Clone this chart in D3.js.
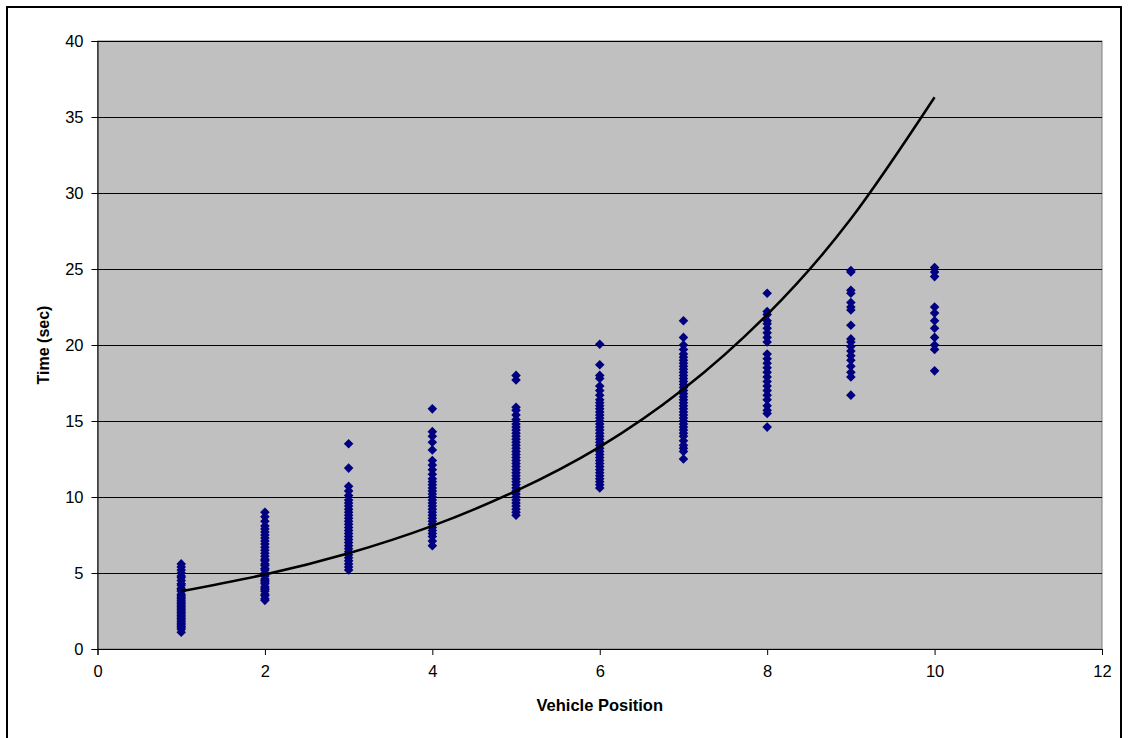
<!DOCTYPE html>
<html><head><meta charset="utf-8">
<script src="https://cdn.jsdelivr.net/npm/d3@7"></script>
<style>body{margin:0;background:#fff}svg{display:block}text{font-family:"Liberation Sans",Arial,sans-serif}</style>
</head><body><svg id="c" width="1128" height="738"></svg>
<script>
const positions = [1,2,3,4,5,6,7,8,9,10];
const times1 = [5.6,5.4,5.2,5.0,4.8,4.7,4.5,4.3,4.2,4.0,3.9,3.8,3.6,3.5,3.4,3.3,3.2,3.1,3.0,2.9,2.8,2.7,2.6,2.5,2.4,2.3,2.2,2.1,2.0,1.9,1.8,1.7,1.6,1.5,1.4,1.3,1.1];
const times2 = [9.0,8.7,8.4,8.1,7.9,7.7,7.5,7.3,7.1,6.9,6.7,6.5,6.3,6.1,5.9,5.8,5.6,5.5,5.3,5.2,5.0,4.9,4.8,4.6,4.5,4.4,4.3,4.1,4.0,3.9,3.8,3.6,3.5,3.3,3.2];
const times3 = [13.5,11.9,10.7,10.4,10.1,9.8,9.6,9.4,9.2,9.0,8.8,8.6,8.4,8.2,8.0,7.8,7.6,7.4,7.2,7.0,6.8,6.6,6.4,6.2,6.0,5.8,5.6,5.4,5.2];
const times4 = [15.8,14.3,14.0,13.6,13.1,12.4,12.1,11.8,11.5,11.2,11.0,10.8,10.6,10.4,10.2,10.0,9.8,9.6,9.4,9.2,9.0,8.8,8.6,8.4,8.2,8.0,7.8,7.6,7.4,7.1,6.8];
const times5 = [18.0,17.7,15.9,15.7,15.4,15.1,14.8,14.6,14.4,14.2,14.0,13.8,13.6,13.4,13.2,13.0,12.8,12.6,12.4,12.2,12.0,11.8,11.6,11.4,11.2,11.0,10.8,10.6,10.4,10.2,10.0,9.8,9.6,9.4,9.2,9.0,8.8];
const times6 = [20.05,18.7,18.0,17.8,17.3,17.0,16.7,16.4,16.2,16.0,15.8,15.6,15.4,15.2,15.0,14.8,14.6,14.4,14.2,14.0,13.8,13.6,13.4,13.2,13.0,12.8,12.6,12.4,12.2,12.0,11.8,11.6,11.4,11.2,11.0,10.8,10.6];
const times7 = [21.6,20.5,20.0,19.7,19.4,19.2,19.0,18.8,18.6,18.4,18.2,18.0,17.8,17.6,17.4,17.2,17.0,16.8,16.6,16.4,16.2,16.0,15.8,15.6,15.4,15.2,15.0,14.8,14.6,14.4,14.2,14.0,13.7,13.4,13.2,13.0,12.5];
const times8 = [23.4,22.2,22.0,21.6,21.4,21.1,20.8,20.5,20.2,19.4,19.1,18.8,18.5,18.2,17.9,17.6,17.3,17.0,16.7,16.4,16.0,15.7,15.5,14.6];
const times9 = [24.9,24.8,23.6,23.4,22.8,22.5,22.3,21.3,20.4,20.2,19.9,19.6,19.3,19.0,18.6,18.2,17.9,16.7];
const times10 = [25.1,24.8,24.5,22.5,22.1,21.6,21.1,20.5,20.0,19.7,18.3];
const trendValues = [3.8,4.9,6.3,8.1,10.4,13.3,17.1,22.0,28.3,36.3];
const xTicks = [0,2,4,6,8,10,12];
const yTicks = [0,5,10,15,20,25,30,35,40];
const xTitle = "Vehicle Position";
const yTitle = "Time (sec)";

const allTimes = [times1,times2,times3,times4,times5,times6,times7,times8,times9,times10];
const points = [];
positions.forEach((p,i)=>allTimes[i].forEach(t=>points.push({x:p,y:t})));
const trend = positions.map((p,i)=>({x:p,y:trendValues[i]}));

const svg = d3.select("#c");
const L=97.5, R=1102, T=41, B=649;
const x = d3.scaleLinear().domain([0,12]).range([L,R]);
const y = d3.scaleLinear().domain([0,40]).range([B,T]);

svg.append("rect").attr("x",7).attr("y",7).attr("width",1114).attr("height",740)
  .attr("fill","#fff").attr("stroke","#000").attr("stroke-width",2);

svg.append("rect").attr("x",L).attr("y",T).attr("width",R-L).attr("height",B-T)
  .attr("fill","#c0c0c0").attr("stroke","#808080").attr("stroke-width",1);

svg.append("g").selectAll("line").data(yTicks.filter(v=>v>0)).join("line")
  .attr("x1",L).attr("x2",R).attr("y1",d=>Math.round(y(d))+0.5).attr("y2",d=>Math.round(y(d))+0.5)
  .attr("stroke","#000").attr("stroke-width",1);

const yAxis = svg.append("g").attr("transform",`translate(${L},0)`)
  .call(d3.axisLeft(y).tickValues(yTicks).tickSize(6).tickPadding(8).tickFormat(d3.format("d")));
const xAxis = svg.append("g").attr("transform",`translate(0,${B})`)
  .call(d3.axisBottom(x).tickValues(xTicks).tickSize(6).tickPadding(10).tickFormat(d3.format("d")));
[yAxis,xAxis].forEach(g=>{
  g.selectAll("text").attr("font-size",16.5).attr("fill","#000").attr("font-family","Liberation Sans, Arial, sans-serif");
  g.selectAll("line,path").attr("stroke","#000");
});

svg.append("g").selectAll("path").data(points).join("path")
  .attr("d",d3.symbol(d3.symbolSquare,46))
  .attr("transform",d=>`translate(${x(d.x)},${y(d.y)}) rotate(45)`)
  .attr("fill","#000080");

svg.append("path").datum(trend)
  .attr("d",d3.line().x(d=>x(d.x)).y(d=>y(d.y)).curve(d3.curveNatural))
  .attr("fill","none").attr("stroke","#000").attr("stroke-width",2.5);

svg.append("text").attr("x",(L+R)/2).attr("y",711).attr("text-anchor","middle")
  .attr("font-size",16.5).attr("font-weight","bold").text(xTitle);
svg.append("text").attr("transform",`translate(49,${(T+B)/2}) rotate(-90)`).attr("text-anchor","middle")
  .attr("font-size",16).attr("font-weight","bold").text(yTitle);
</script></body></html>
